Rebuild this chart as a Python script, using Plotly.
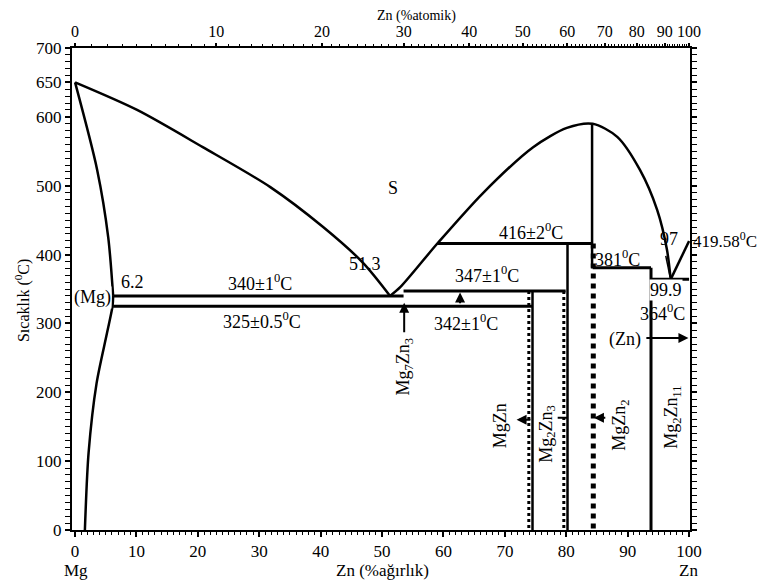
import plotly.graph_objects as go

# ---------------- data (wt% Zn, temperature in C) ----------------
liq_left_x = [0, 10.1, 20.8, 31.8, 40.4, 46.9, 51.3]
liq_left_y = [650, 610, 556, 498, 440, 388, 340]

sol_mg_x = [0, 3.6, 5.4, 6.2]
sol_mg_y = [650, 523, 425, 340]

solvus_mg_x = [6.2, 6.1, 5.2, 3.5, 2.2, 1.6]
solvus_mg_y = [340, 325, 286, 213, 112, 0]

liq_right_x = [51.3, 53.0, 59.0, 66.4, 74.6, 80.1, 84.3, 88.3, 92.0, 94.8, 96.4, 97.0]
liq_right_y = [340, 353, 416, 489, 556, 584, 590, 571, 523, 465, 407, 364]

liq_zn_x = [97.0, 100.0]
liq_zn_y = [364, 419.58]

iso_T = [340, 325, 347, 416, 381, 364]
iso_x0 = [6.2, 6.2, 53.5, 59.0, 84.3, 93.8]
iso_x1 = [53.5, 74.5, 79.9, 84.3, 93.8, 100.0]

# compound lines: (x, top T, bottom T, dash, width)
comp_x = [74.5, 73.9, 80.2, 79.6, 84.2, 84.4, 93.8]
comp_top = [347, 347, 416, 347, 590, 416, 381]
comp_bot = [0, 0, 0, 0, 381, 0, 0]
comp_dash = ["solid", "dot", "solid", "dot", "solid", "dot", "solid"]
comp_w = [2.5, 3, 2.5, 3, 2.5, 5, 3]

y_ticks = [0, 100, 200, 300, 400, 500, 600, 650, 700]
x_ticks = [0, 10, 20, 30, 40, 50, 60, 70, 80, 90, 100]
at_ticks = [0, 10, 20, 30, 40, 50, 60, 70, 80, 90, 100]

M_MG, M_ZN = 24.305, 65.38


def at_to_wt(a):
    return 100.0 * a * M_ZN / (a * M_ZN + (100.0 - a) * M_MG)


FONT = "Liberation Serif, DejaVu Serif, serif"
BLACK = "#000000"

fig = go.Figure()


def add_line(x, y, w=2.5, dash="solid", shape="linear"):
    fig.add_trace(go.Scatter(x=x, y=y, mode="lines",
                             line=dict(color=BLACK, width=w, dash=dash, shape=shape, smoothing=0.8),
                             hoverinfo="skip", showlegend=False))


add_line(liq_left_x, liq_left_y, 2.5, shape="spline")
add_line(sol_mg_x, sol_mg_y, 2.5, shape="spline")
add_line(solvus_mg_x, solvus_mg_y, 2.5, shape="spline")
add_line(liq_right_x, liq_right_y, 2.5, shape="spline")
add_line(liq_zn_x, liq_zn_y, 2.5)

for T, a, b in zip(iso_T, iso_x0, iso_x1):
    add_line([a, b], [T, T], 3)

for x, t, b, d, w in zip(comp_x, comp_top, comp_bot, comp_dash, comp_w):
    add_line([x, x], [t, b], w, dash=d)

# invisible trace for top axis
fig.add_trace(go.Scatter(x=[0, 100], y=[0, 0], xaxis="x2", mode="markers",
                         marker=dict(opacity=0), hoverinfo="skip", showlegend=False))

annos = []


def txt(x, y, s, size=18, angle=0, bg=None, xref="x", yref="y", xanchor="center"):
    d = dict(x=x, y=y, xref=xref, yref=yref, text=s, showarrow=False, textangle=angle,
             font=dict(family=FONT, size=size, color=BLACK), xanchor=xanchor, yanchor="middle")
    if bg:
        d["bgcolor"] = bg
        d["borderpad"] = 0
    annos.append(d)


def arrow(x, y, ax, ay, head=2, size=1.0):
    annos.append(dict(x=x, y=y, ax=ax, ay=ay, xref="x", yref="y", axref="x", ayref="y",
                      text="", showarrow=True, arrowhead=head, arrowsize=size,
                      arrowwidth=2, arrowcolor=BLACK))


txt(51.8, 497, "S")
txt(47.2, 386, "51.3")
txt(9.4, 360, "6.2")
txt(2.8, 337, "(Mg)", bg="white")
txt(30.1, 360, "340±1<sup>0</sup>C")
txt(30.5, 304, "325±0.5<sup>0</sup>C")
txt(63.7, 302, "342±1<sup>0</sup>C")
txt(67.1, 371, "347±1<sup>0</sup>C")
txt(74.3, 434, "416±2<sup>0</sup>C")
txt(88.4, 395, "381<sup>0</sup>C")
txt(96.8, 422, "97")
txt(1.002, 0.602, "419.58<sup>0</sup>C", size=17, xref="paper", yref="paper", xanchor="left")
txt(96.2, 348, "99.9", bg="white")
txt(95.6, 316, "364<sup>0</sup>C")
txt(89.6, 277, "(Zn)")

txt(53.7, 237, "Mg<sub>7</sub>Zn<sub>3</sub>", angle=-90)
txt(69.2, 152, "MgZn", angle=-90)
txt(76.9, 140, "Mg<sub>2</sub>Zn<sub>3</sub>", angle=-90)
txt(88.8, 152, "MgZn<sub>2</sub>", angle=-90)
txt(97.4, 163, "Mg<sub>2</sub>Zn<sub>11</sub>", angle=-90)

arrow(53.6, 330, 53.6, 285)
arrow(62.7, 345, 62.7, 327)
arrow(71.9, 160, 74.4, 160)
arrow(84.5, 163, 86.6, 163)
arrow(99.9, 279, 92.8, 279)
add_line([78.6, 80.2], [163, 163], 2)
add_line([96.2, 96.9], [398, 368], 1.5)

# axis captions
txt(-0.081, 0.477, "Sıcaklık (<sup>0</sup>C)", size=16, angle=-90, xref="paper", yref="paper")
txt(0.557, 1.067, "Zn (%atomik)", size=14, xref="paper", yref="paper")
txt(0.503, -0.083, "Zn (%ağırlık)", size=17, xref="paper", yref="paper")
txt(0.0065, -0.083, "Mg", size=17, xref="paper", yref="paper")
txt(0.997, -0.083, "Zn", size=17, xref="paper", yref="paper")

fig.update_layout(
    width=766, height=585,
    margin=dict(l=64, r=84, t=40, b=63),
    paper_bgcolor="white", plot_bgcolor="white",
    font=dict(family=FONT, size=17, color=BLACK),
    annotations=annos,
    showlegend=False,
    xaxis=dict(range=[-0.5, 100.15], tickvals=x_ticks, ticktext=[str(v) for v in x_ticks],
               showgrid=False, zeroline=False, showline=True, linecolor=BLACK, linewidth=2,
               ticks="outside", ticklen=5, tickwidth=2, tickcolor=BLACK,
               minor=dict(dtick=1, ticks="outside", ticklen=3, tickwidth=1, tickcolor=BLACK),
               mirror=False, tickfont=dict(family=FONT, size=17)),
    xaxis2=dict(range=[-0.5, 100.15], overlaying="x", side="top",
                tickvals=[at_to_wt(a) for a in at_ticks], ticktext=[str(a) for a in at_ticks],
                showgrid=False, zeroline=False, showline=True, linecolor=BLACK, linewidth=2,
                ticks="outside", ticklen=3, tickwidth=2, tickcolor=BLACK,
                minor=dict(tickvals=[at_to_wt(a) for a in range(0, 101)], ticks="outside",
                           ticklen=2, tickwidth=1, tickcolor=BLACK),
                tickfont=dict(family=FONT, size=16)),
    yaxis=dict(range=[0, 700], tickvals=y_ticks, ticktext=[str(v) for v in y_ticks],
               showgrid=False, zeroline=False, showline=True, linecolor=BLACK, linewidth=2,
               ticks="outside", ticklen=5, tickwidth=2, tickcolor=BLACK,
               minor=dict(dtick=10, ticks="outside", ticklen=3, tickwidth=1, tickcolor=BLACK),
               mirror="allticks", tickfont=dict(family=FONT, size=17)),
)

fig.write_html("out.html")
